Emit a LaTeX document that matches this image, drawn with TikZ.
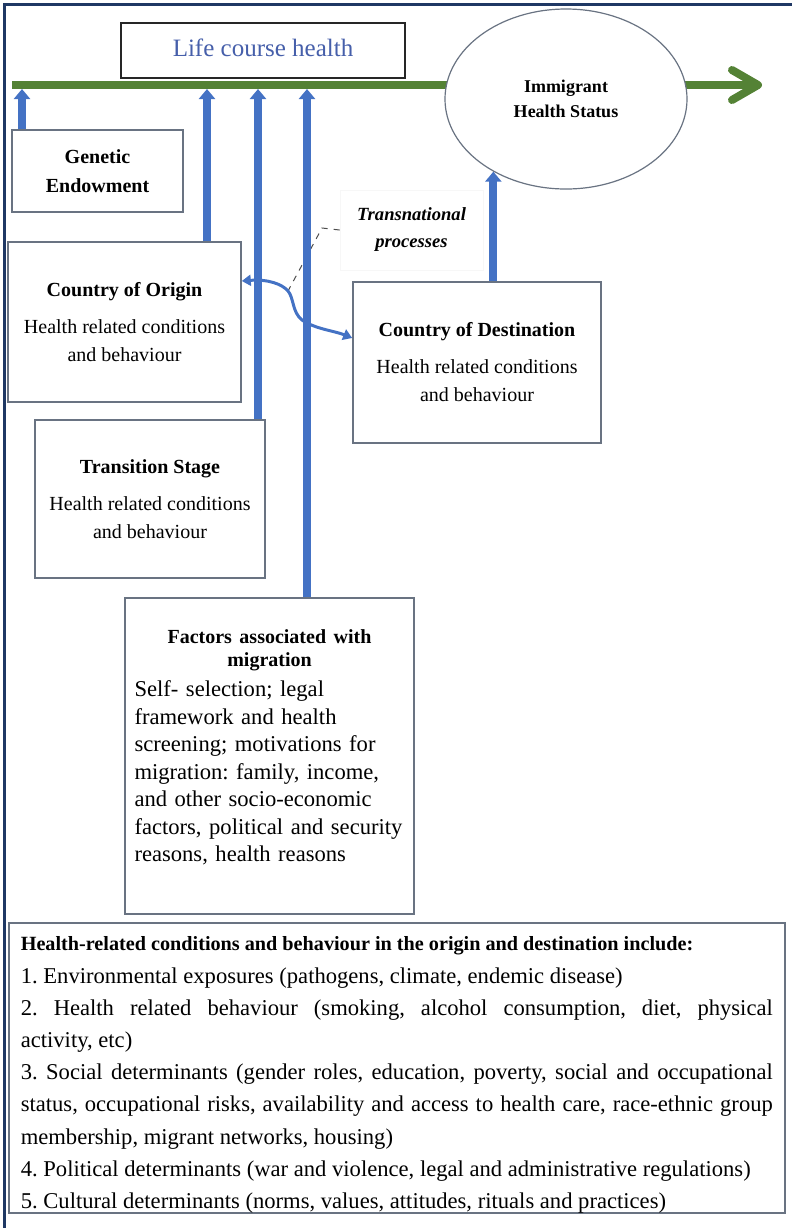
\documentclass[tikz,border=0pt]{standalone}
\usepackage{fontspec}
\setmainfont{Liberation Serif}
\usetikzlibrary{shapes.geometric,arrows.meta}
\definecolor{framenavy}{RGB}{31,56,100}
\definecolor{timegreen}{RGB}{84,130,53}
\definecolor{feedblue}{RGB}{68,114,196}
\definecolor{boxgray}{RGB}{105,115,130}
\definecolor{titleblue}{RGB}{70,95,170}
\setlength{\parindent}{0pt}
\frenchspacing
\tikzset{
	infobox/.style={draw=boxgray, line width=0.8pt, fill=white, align=center, inner sep=0pt, font=\fontsize{10}{14}\selectfont},
	feed/.style={draw=feedblue, line width=4pt, -{Triangle[width=8pt,length=5pt]}},
}
\begin{document}
\begin{tikzpicture}[x=0.5pt,y=-0.5pt]
	\useasboundingbox (0,0) rectangle (792,1228);
	\draw[framenavy, line width=1.5pt] (4,1228) -- (4,4) -- (792,4);
	\coordinate (tl) at (12,85);
	\coordinate (tlb) at (12,89);
	\coordinate (tlend) at (762,85);
	\draw[timegreen, line width=4pt, -{Straight Barb[length=13pt,width=15pt,line cap=round,line join=round]}] (tl) -- (tlend);
	\node[ellipse, draw=boxgray, fill=white, line width=0.6pt, minimum width=121pt, minimum height=90pt, inner sep=0pt, align=center, font=\fontsize{9}{12.5}\selectfont\bfseries] (imm) at (566,99) {Immigrant\\Health Status};
	\node[draw=black!85, line width=1pt, fill=white, minimum width=142pt, minimum height=27.5pt, text=titleblue, font=\fontsize{12.5}{14}\selectfont] (life) at (263,50) {\raisebox{2.5pt}{Life course health}};
	\node[infobox, minimum width=85.5pt, minimum height=41pt, font=\fontsize{10}{14.5}\selectfont\bfseries] (gen) at (97.5,171) {Genetic\\Endowment};
	\node[infobox, minimum width=116.5pt, minimum height=80pt] (origin) at (124.5,322) {\textbf{Country of Origin}\\[4.5pt]Health related conditions\\and behaviour};
	\node[infobox, minimum width=115pt, minimum height=79pt] (transition) at (150,499) {\textbf{Transition Stage}\\[4.5pt]Health related conditions\\and behaviour};
	\node[infobox, minimum width=124pt, minimum height=80.5pt] (dest) at (477,362.5) {\textbf{Country of Destination}\\[4.5pt]Health related conditions\\and behaviour};
	\node[infobox, anchor=north, text width=135pt, inner xsep=4.75pt, align=left, font=\fontsize{11.3}{13.75}\selectfont] (factors) at (269.5,597) {{\centering\fontsize{10}{11.5}\selectfont\bfseries\rule{0pt}{23pt}Factors associated with\\migration\par}\vspace{1.25pt}
		Self- selection; legal\\
		framework and health\\
		screening; motivations for\\
		migration: family, income,\\
		and other socio-economic\\
		factors, political and security\\
		reasons, health reasons\rule[-26pt]{0pt}{26pt}};
	\node[draw=black!3, fill=white, minimum width=71.5pt, minimum height=40pt, inner sep=0pt, align=center, font=\fontsize{9.3}{13.5}\selectfont\bfseries\itshape] (trans) at (411.5,230) {Transnational\\processes};
	\node[infobox, anchor=north west, text width=376pt, inner xsep=6pt, align=justify, font=\fontsize{11.3}{16.1}\selectfont] (incl) at (8,922) {{\fontsize{10.1}{16.1}\selectfont\bfseries\rule{0pt}{14pt}Health-related conditions and behaviour in the origin and destination include:\par}
		1. Environmental exposures (pathogens, climate, endemic disease)\par
		2. Health related behaviour (smoking, alcohol consumption, diet, physical\linebreak activity, etc)\par
		3. Social determinants (gender roles, education, poverty, social and occupational\linebreak status, occupational risks, availability and access to health care, race-ethnic group\linebreak membership, migrant networks, housing)\par
		4. Political determinants (war and violence, legal and administrative regulations)\par
		5. Cultural determinants (norms, values, attitudes, rituals and practices)};
	\coordinate (tnmid) at (288,291);
	\draw[black!70, dashed, line width=0.5pt] (trans.west) -- (322,228) -- (tnmid);
	\draw[feed] (gen.north -| 22,0) -- (tlb -| 22,0);
	\draw[feed] (origin.north -| 207,0) -- (tlb -| 207,0);
	\draw[feed] (transition.north -| 258,0) -- (tlb -| 258,0);
	\draw[feed] (factors.north -| 307,0) -- (tlb -| 307,0);
	\draw[feed] (dest.north -| imm.225) -- (imm.225);
	\draw[feedblue, line width=1.5pt, {Triangle[width=5.5pt,length=4.5pt]}-{Triangle[width=5.5pt,length=4.5pt]}] (origin.east |- 0,281) .. controls (268,279) and (282,284) .. (tnmid) .. controls (294,298) and (292,312) .. (302,320) .. controls (315,329) and (335,331) .. (dest.west |- 0,338);
\end{tikzpicture}
\end{document}
